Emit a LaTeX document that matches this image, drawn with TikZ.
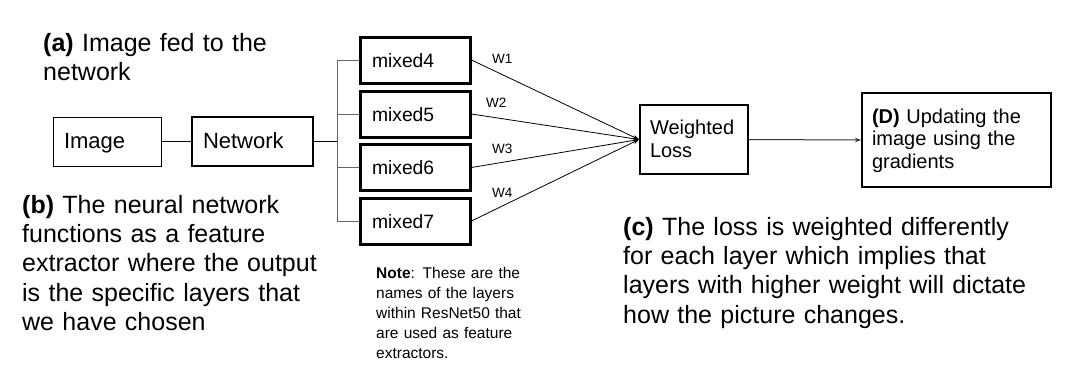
\documentclass[tikz,border=0pt]{standalone}
\usepackage{fontspec}
\setmainfont{Liberation Sans}
\usetikzlibrary{arrows.meta}
\begin{document}
\begin{tikzpicture}[x=1pt,y=-1pt,
  box/.style={draw, rectangle, inner ysep=0pt, align=left},
  bigtxt/.style={inner sep=0pt, anchor=base west, align=left, font=\fontsize{25pt}{29.4pt}\selectfont},
  notetxt/.style={inner sep=0pt, anchor=base west, align=left, font=\fontsize{15.5pt}{20.1pt}\selectfont},
  wlab/.style={inner sep=0pt, anchor=base west, font=\fontsize{13.5pt}{16pt}\selectfont},
  mixbox/.style={box, line width=3pt, minimum width=110pt, minimum height=46pt, inner xsep=12pt, text width=86pt,
     text height=15pt, text depth=1pt, font=\fontsize{19.3pt}{22pt}\selectfont},
  feed/.style={line width=0.8pt, -{Stealth[length=6pt,width=4.5pt]}},
  brk/.style={line width=1pt, draw=black!60}
]
\useasboundingbox (0,0) rectangle (1082,384);

% boxes
\node[box, line width=1pt, minimum width=108pt, minimum height=49pt, inner xsep=11pt, text width=86pt,
      text height=15pt, text depth=2pt, font=\fontsize{22pt}{25pt}\selectfont] (img) at (107,141.5) {Image};
\node[box, line width=2pt, minimum width=121pt, minimum height=49pt, inner xsep=11pt, text width=99pt,
      text height=15pt, text depth=2pt, font=\fontsize{22pt}{25pt}\selectfont] (net) at (252.5,141.5) {Network};

\node[mixbox] (m4) at (415,60) {mixed4};
\node[mixbox] (m5) at (415,114) {mixed5};
\node[mixbox] (m6) at (415,167.5) {mixed6};
\node[mixbox] (m7) at (415,221) {mixed7};

\node[box, line width=2pt, minimum width=108pt, minimum height=69pt, inner xsep=10pt, text width=88pt,
      text height=15pt, text depth=26pt, font=\fontsize{20pt}{23pt}\selectfont] (wl) at (694,139.5) {Weighted\\Loss};
\node[box, line width=2pt, minimum width=189pt, minimum height=94pt, inner xsep=10pt, text width=169pt,
      text height=15pt, text depth=49pt, font=\fontsize{20pt}{22.7pt}\selectfont] (upd) at (956.5,140)
      {\textbf{(D)} Updating the\\image using the\\gradients};

% connectors
\coordinate (br) at (337,141.5);
\draw[line width=1pt] (img.east) -- (net.west);
\draw[line width=1pt] (net.east) -- (br);
\draw[brk] (m4.west) -| (br);
\draw[brk] (m5.west) -| (br);
\draw[brk] (m6.west) -| (br);
\draw[brk] (m7.west) -| (br);

\draw[feed] (m4.east) -- (wl.west);
\draw[feed] (m5.east) -- (wl.west);
\draw[feed] (m6.east) -- (wl.west);
\draw[feed] (m7.east) -- (wl.west);
\draw[line width=1pt, draw=black!80, -{Stealth[length=6pt,width=4.5pt]}] (wl.east) -- (upd.west);

% weight labels
\node[wlab] (w1) at (492,63) {W1};
\node[wlab] (w2) at (486,107) {W2};
\node[wlab] (w3) at (492,153) {W3};
\node[wlab] (w4) at (492,197) {W4};

% annotations
\node[bigtxt, text width=300pt] (ta) at (43,51) {\textbf{(a)} Image fed to the\\network};
\node[bigtxt, text width=340pt] (tb) at (22,213) {\textbf{(b)} The neural network\\functions as a feature\\extractor where the output\\is the specific layers that\\we have chosen};
\node[bigtxt, text width=450pt] (tc) at (623,235) {\textbf{(c)} The loss is weighted differently\\for each layer which implies that\\layers with higher weight will dictate\\how the picture changes.};
\node[notetxt, text width=200pt] (tn) at (376,278) {\textbf{Note}: These are the\\names of the layers\\within ResNet50 that\\are used as feature\\extractors.};
\end{tikzpicture}
\end{document}
